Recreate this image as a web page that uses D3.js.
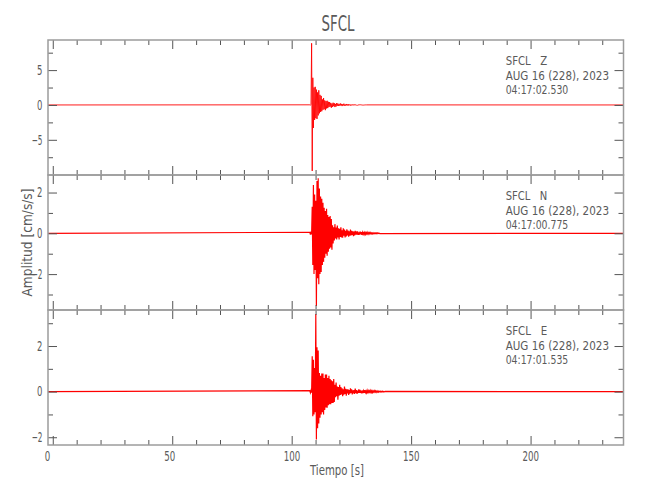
<!DOCTYPE html>
<html><head><meta charset="utf-8">
<script src="https://cdn.jsdelivr.net/npm/d3@7"></script>
<style>
body{margin:0;background:#fff}
text{font-family:"Liberation Sans Narrow","DejaVu Sans Condensed","Liberation Sans",sans-serif;fill:#5a5a5a}
</style></head><body><svg id="c" width="650" height="500"></svg>
<script>
// ---------- data ----------
const stationName = "SFCL";
const components = ["Z", "N", "E"];
const dateLabel = "AUG 16 (228), 2023";
const startTimes = ["04:17:02.530", "04:17:00.775", "04:17:01.535"];
const xLabel = "Tiempo [s]";
const yLabel = "Amplitud [cm/s/s]";
const timeDomain = [-2.0, 238.9];
const xTicksMajor = [0, 50, 100, 150, 200];
const xTicksMinor = [10, 20, 30, 40, 60, 70, 80, 90, 110, 120, 130, 140, 160, 170, 180, 190, 210, 220, 230];
const yDomainZ = [-10.05, 9.32];
const yDomainN = [-3.76, 2.86];
const yDomainE = [-2.34, 3.58];
const yTicksMajorZ = [-5, 0, 5];
const yTicksMajorN = [-2, 0, 2];
const yTicksMajorE = [-2, 0, 2];
const yTicksMinorZ = [-7.5, -2.5, 2.5, 7.5];
const yTicksMinorN = [-3, -1, 1];
const yTicksMinorE = [-1, 1, 3];
// coda samples (peak / trough values read from the record), start time and spacing in s
const codaStart = 107.6;
const sampleStep = 0.25;
const zVals = [0.02, -0.04, 0.1, 8.85, -9.47, 3.9, -3.3, 2.5, -2.15,
  2.6, -1.9, 2.2, -2.0, 1.8,
  -1.5, 2.1, -1.2, 1.45, -1.0, 1.3,
  -0.9, 0.8, -0.7, 1.0, -0.6, 0.65, -0.75, 0.55, -0.5, 0.6, -0.45,
  0.45, -0.3, 0.4, -0.25, 0.3, -0.4, 0.2, -0.28, 0.32, -0.18, 0.25, -0.3, 0.15, -0.22, 0.28, -0.12, 0.2,
  -0.15, 0.12, -0.1, 0.22, -0.08, 0.15, -0.16, 0.1, -0.08, 0.18, -0.1, 0.07, -0.1, 0.14, -0.06, 0.08, -0.1, 0.1, -0.05, 0.07, -0.08, 0.05, -0.06,
  0.07, -0.04, 0.05, -0.06, 0.06, -0.03, 0.05, -0.04, 0.03, -0.05, 0.04, -0.03, 0.03, -0.04, 0.03, -0.02, 0.03, -0.02, 0.02, -0.02, 0.02, -0.02, 0.01, -0.01, 0.01];
const nVals = [0.05, -0.06, 0.08, -0.05,
  1.3, -1.55,
  2.37, -2.0, 1.9, -1.8,
  1.6, -3.56, 2.56, -2.2,
  2.7, -2.5,
  2.2, -2.0, 1.8, -1.9,
  1.7, -1.55, 1.5, -1.4,
  1.25, -1.2, 1.1, -1.0, 1.2, -1.1,
  0.9, -0.9, 0.8, -0.75, 0.85, -0.7, 0.7, -0.8,
  0.4, -0.5, 0.3, -0.35, 0.45, -0.25, 0.28, -0.3, 0.38, -0.2, 0.25, -0.3,
  0.22, -0.18, 0.3, -0.2, 0.15, -0.22, 0.25, -0.12, 0.18, -0.2, 0.12,
  -0.15, 0.2, -0.1, 0.14, -0.16, 0.1, -0.12, 0.18, -0.1, 0.12, -0.08, 0.1, -0.14, 0.08, -0.1, 0.12, -0.07,
  0.09, -0.06, 0.1, -0.08, 0.05, -0.07, 0.09, -0.05, 0.06, -0.08, 0.05, -0.04, 0.07, -0.05, 0.04, -0.05, 0.04,
  -0.03, 0.05, -0.03, 0.03, -0.04, 0.03, -0.02, 0.04, -0.02, 0.02, -0.03, 0.02, -0.02, 0.02, -0.02, 0.02, -0.02, 0.02, -0.01, 0.02, -0.01, 0.01, -0.01];
const eVals = [0.04, -0.05, 0.05, -0.04,
  1.55, -1.08, 1.4, -1.0,
  1.04, -0.9,
  3.4, -2.1,
  1.95, -1.6, 1.8, -1.4,
  0.82, -1.15, 0.7, -1.0, 0.8, -0.9,
  0.8, -1.0, 0.6, -0.8, 0.75, -0.7,
  0.75, -0.71, 0.6, -0.6, 0.7, -0.55,
  0.55, -0.55, 0.5, -0.5, 0.45, -0.5, 0.55, -0.45,
  0.3, -0.25, 0.4, -0.2, 0.22, -0.35, 0.2, -0.18, 0.3, -0.15, 0.2,
  -0.12, 0.15, -0.2, 0.1, -0.13, 0.22, -0.1, 0.12, -0.18, 0.1,
  -0.08, 0.1, -0.14, 0.07, -0.09, 0.15, -0.06, 0.1, -0.12, 0.06, -0.08, 0.07, -0.1, 0.13, -0.05, 0.07, -0.1, 0.05, -0.06, 0.1, -0.05, 0.08, -0.06, 0.05, -0.08,
  0.05, -0.06, 0.04, -0.05, 0.07, -0.04, 0.03, -0.05, 0.06, -0.03, 0.04, -0.04, 0.03, -0.03, 0.05, -0.03, 0.04, -0.04, 0.03, -0.02, 0.04, -0.02, 0.03, -0.03, 0.02, -0.02, 0.03, -0.02, 0.02, -0.01, 0.02, -0.02, 0.01, -0.01, 0.02, -0.01, 0.01, -0.01, 0.01];

// ---------- layout ----------
const svg = d3.select("#c");
const L = 48, R = 623.5, T = 40, PH = 135;
const frameColor = "#9c9c9c", tickColor = "#555";
const x = d3.scaleLinear().domain(timeDomain).range([L, R]);

const panels = [
  {vals: zVals, dom: yDomainZ, maj: yTicksMajorZ, min: yTicksMinorZ, sw: 0.9},
  {vals: nVals, dom: yDomainN, maj: yTicksMajorN, min: yTicksMinorN, sw: 1.2},
  {vals: eVals, dom: yDomainE, maj: yTicksMajorE, min: yTicksMinorE, sw: 1.2}
];

svg.append("text").attr("x", 338).attr("y", 30.5).attr("text-anchor", "middle")
  .attr("font-size", 21).attr("textLength", 33).attr("lengthAdjust", "spacingAndGlyphs")
  .text(stationName);

panels.forEach((p, i) => {
  const top = T + i * PH, bot = top + PH;
  const y = d3.scaleLinear().domain(p.dom).range([bot, top]);
  const g = svg.append("g");
  const cid = "clip" + i;
  svg.append("clipPath").attr("id", cid).append("rect")
    .attr("x", L).attr("y", top).attr("width", R - L).attr("height", PH);

  // trace
  const pts = [{t: timeDomain[0], v: 0}]
    .concat(p.vals.map((v, k) => ({t: codaStart + k * sampleStep, v})))
    .concat([{t: timeDomain[1], v: 0}]);
  const line = d3.line().x(d => x(d.t)).y(d => y(d.v));
  g.append("path").datum(pts).attr("d", line).attr("clip-path", `url(#${cid})`)
    .attr("fill", "none").attr("stroke", "#ff0000").attr("stroke-width", p.sw)
    .attr("stroke-linejoin", "miter");

  // ticks (inward on all 4 sides)
  const tickAxes = (ticks, size) => {
    [[d3.axisBottom(x), `translate(0,${top})`], [d3.axisTop(x), `translate(0,${bot})`]].forEach(([a, tr]) => {
      const gg = g.append("g").attr("transform", tr)
        .call(a.tickValues(ticks).tickSize(size).tickFormat(""));
      gg.select(".domain").remove();
      gg.selectAll("line").attr("stroke", tickColor);
    });
  };
  tickAxes(xTicksMajor, 9);
  tickAxes(xTicksMinor, 5);
  const yTicks = (ticks, size) => {
    [[d3.axisRight(y), `translate(${L},0)`], [d3.axisLeft(y), `translate(${R},0)`]].forEach(([a, tr]) => {
      const gg = g.append("g").attr("transform", tr)
        .call(a.tickValues(ticks).tickSize(size).tickFormat(""));
      gg.select(".domain").remove();
      gg.selectAll("line").attr("stroke", tickColor);
    });
  };
  yTicks(p.maj, 9);
  yTicks(p.min, 5);

  // y labels
  const yl = g.append("g").attr("transform", `translate(${L},0)`)
    .call(d3.axisLeft(y).tickValues(p.maj).tickSize(0).tickPadding(5.5).tickFormat(d3.format("d")));
  yl.select(".domain").remove();
  yl.attr("font-family", null);
  yl.selectAll("text").attr("font-size", 13.5).attr("fill", "#5a5a5a")
    .attr("textLength", function () { return this.textContent.length * 5.4; })
    .attr("lengthAdjust", "spacingAndGlyphs");

  // frame
  g.append("rect").attr("x", L).attr("y", top).attr("width", R - L).attr("height", PH)
    .attr("fill", "none").attr("stroke", frameColor).attr("stroke-width", 1.5);

  // annotation
  const ann = [[`${stationName}   ${components[i]}`, 41.6], [dateLabel, 103.3], [startTimes[i], 62.6]];
  ann.forEach(([s, w], k) => {
    g.append("text").attr("x", 505.7).attr("y", top + 25 + k * 14.6)
      .attr("font-size", 13).style("white-space", "pre")
      .attr("textLength", w).attr("lengthAdjust", "spacingAndGlyphs").text(s);
  });

  if (i === 2) {
    const xl = svg.append("g").attr("transform", `translate(0,${bot})`)
      .call(d3.axisBottom(x).tickValues(xTicksMajor).tickSize(0).tickPadding(6).tickFormat(d3.format("d")));
    xl.select(".domain").remove();
    xl.attr("font-family", null);
    xl.selectAll("text").attr("font-size", 13.5).attr("fill", "#5a5a5a")
      .attr("text-anchor", "start").attr("dx", -8.5)
      .attr("textLength", function () { return this.textContent.length * 5.5; })
      .attr("lengthAdjust", "spacingAndGlyphs");
  }
});

svg.append("text").attr("x", 337).attr("y", 474.5).attr("text-anchor", "middle")
  .attr("font-size", 14.5).style("white-space", "pre")
  .attr("textLength", 54).attr("lengthAdjust", "spacingAndGlyphs").text(xLabel);

svg.append("text").attr("transform", "translate(31.5,242.5) rotate(-90)").attr("text-anchor", "middle")
  .attr("font-size", 14.5).style("white-space", "pre")
  .attr("textLength", 108).attr("lengthAdjust", "spacingAndGlyphs").text(yLabel);
</script></body></html>
